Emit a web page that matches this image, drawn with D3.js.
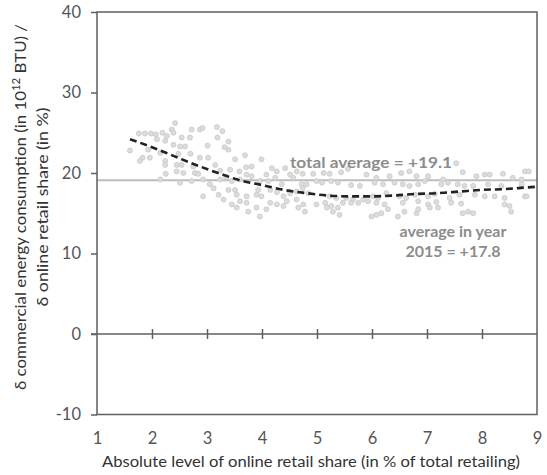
<!DOCTYPE html>
<html>
<head>
<meta charset="utf-8">
<script src="https://cdn.jsdelivr.net/npm/d3@7/dist/d3.min.js"></script>
<style>
  html, body { margin: 0; padding: 0; background: #fff; }
  svg { display: block; font-family: Lato, "Open Sans", sans-serif; }
</style>
</head>
<body>
<svg id="chart" width="547" height="475"></svg>
<script>
// Online retail share (%) vs. marginal commercial energy consumption
const pointX = [
  2.42,1.76,1.87,1.98,2.07,2.19,2.27,2.36,2.39,2.72,2.87,2.92,3.18,3.28,2.54,2.69,3.19,2.09,2.24,2.39,
  2.51,2.60,3.01,3.32,3.39,3.39,1.60,1.93,2.15,2.48,2.70,2.87,3.02,1.83,1.78,1.96,2.24,2.24,2.45,2.54,
  2.75,2.78,2.45,2.57,3.15,3.51,3.69,3.99,3.71,3.81,3.59,3.42,3.24,2.25,4.08,4.18,4.27,4.42,4.51,4.63,
  4.74,4.93,5.12,2.15,2.51,2.72,2.84,2.93,3.05,3.24,3.35,3.45,3.60,3.72,3.81,3.96,4.12,4.24,4.36,4.57,
  4.72,4.81,4.99,5.09,2.93,3.12,3.21,3.39,3.51,3.54,3.30,3.45,3.60,3.72,3.90,3.93,3.99,4.15,4.27,4.39,
  4.51,4.63,4.74,4.84,3.54,3.72,3.75,3.90,3.96,4.08,4.15,4.27,4.39,4.45,4.63,4.66,4.75,4.78,4.99,5.15,
  5.18,
  7.53,5.23,5.56,5.44,5.90,6.08,6.32,6.53,6.68,6.81,7.02,7.29,7.65,7.90,8.05,8.14,8.38,8.56,8.72,8.78,
  8.85,5.26,5.38,5.62,5.78,6.05,6.20,6.41,6.56,6.68,6.84,6.96,7.26,7.38,7.56,7.68,7.84,8.11,8.35,8.72,
  5.23,5.35,5.53,5.65,5.84,6.02,6.11,6.26,6.50,6.62,6.78,7.02,7.14,7.41,7.59,7.87,8.05,8.23,8.41,8.78,
  5.26,5.38,5.47,5.62,5.75,5.93,6.08,6.23,6.56,6.84,7.02,7.17,7.44,7.62,5.29,5.41,5.99,6.08,6.17,6.29,
  6.47,6.59,6.81,6.84,7.05,7.20,7.65,7.75,7.84,8.41,8.50,8.53,8.81
];
const pointY = [
  26.2,24.9,24.9,24.9,24.8,25.0,24.6,25.4,25.0,25.4,25.4,25.6,25.7,25.2,24.4,24.4,24.4,24.2,24.0,23.5,
  23.3,23.3,23.4,23.2,23.9,22.9,22.8,22.9,22.5,22.4,22.4,21.9,21.9,21.9,21.5,21.9,21.5,21.0,21.0,21.0,
  20.8,20.0,20.2,20.0,21.0,21.7,22.2,21.7,20.7,20.8,20.2,20.4,20.3,19.9,19.8,20.6,20.2,20.6,19.8,20.2,
  19.9,19.9,20.0,19.2,18.8,19.0,19.9,19.2,18.6,19.2,19.5,19.0,19.2,19.8,19.6,19.0,19.0,19.4,18.6,19.4,
  18.6,18.6,19.0,18.8,17.1,18.1,17.3,17.9,17.9,17.3,16.7,16.1,16.5,17.1,17.3,17.9,17.1,17.9,17.6,17.1,
  17.5,17.7,18.1,17.5,15.7,16.3,15.2,15.7,14.6,15.5,16.3,16.1,15.9,16.5,16.7,15.7,16.1,15.2,16.1,16.3,
  15.7,
  21.2,19.9,20.5,20.1,19.8,19.4,19.6,20.0,20.2,19.6,19.6,19.2,20.1,19.6,19.8,19.8,19.9,19.4,19.2,20.2,
  20.2,19.0,18.8,18.5,18.4,18.8,18.6,18.8,18.6,18.4,18.6,19.0,18.6,18.8,18.6,18.4,18.4,18.6,18.4,18.6,
  17.1,16.9,16.9,16.7,16.7,17.1,16.9,17.5,17.1,16.9,17.3,17.1,17.4,16.9,17.3,17.3,17.1,17.1,16.9,17.1,
  15.9,15.7,16.3,16.3,16.3,16.5,16.3,16.1,16.3,16.5,16.1,16.4,16.3,16.2,15.2,14.8,14.6,14.8,15.0,15.5,
  14.6,15.2,15.0,15.5,15.7,15.7,15.0,15.2,15.0,16.1,15.9,15.2,17.1
];

// Smoothed trend
const trendX = [1.6,2.0,2.4,2.8,3.2,3.6,4.0,4.4,4.8,5.2,5.6,6.0,6.4,6.8,7.2,7.6,8.0,8.4,8.8,9.0];
const trendY = [24.2,23.2,22.1,21.0,20.0,19.1,18.5,17.9,17.5,17.2,17.1,17.1,17.2,17.4,17.5,17.7,17.9,18.0,18.2,18.3];

const totalAverage = 19.1;
const yearAverage = 17.8;

const xTicks = [1,2,3,4,5,6,7,8,9];
const yTicks = [-10,0,10,20,30,40];

const svg = d3.select("#chart");
const x = d3.scaleLinear().domain([1, 9]).range([97, 537]);
const y = d3.scaleLinear().domain([-10, 40]).range([414.5, 12]);

const frameColor = "#5f5f5f";
const labelColor = "#555";
const plain = d => String(d);

// total average reference line
svg.append("line")
  .attr("x1", x(1)).attr("x2", x(9))
  .attr("y1", y(totalAverage)).attr("y2", y(totalAverage))
  .attr("stroke", "#bdbdbd").attr("stroke-width", 2);

// scatter
svg.append("g")
  .selectAll("circle")
  .data(pointX.map((v, i) => [v, pointY[i]]))
  .join("circle")
  .attr("cx", d => x(d[0]))
  .attr("cy", d => y(d[1]))
  .attr("r", 2.5)
  .attr("fill", "#dcdcdc")
  .attr("stroke", "#c8c8c8")
  .attr("stroke-width", 0.8);

// dashed trend
svg.append("path")
  .datum(trendX.map((v, i) => [v, trendY[i]]))
  .attr("d", d3.line().x(d => x(d[0])).y(d => y(d[1])).curve(d3.curveMonotoneX))
  .attr("fill", "none")
  .attr("stroke", "#222")
  .attr("stroke-width", 2.6)
  .attr("stroke-dasharray", "7,4");

// plot frame
svg.append("rect")
  .attr("x", x(1)).attr("y", y(40))
  .attr("width", x(9) - x(1)).attr("height", y(-10) - y(40))
  .attr("fill", "none")
  .attr("stroke", frameColor).attr("stroke-width", 1.5);

// y axis
const yAxis = svg.append("g")
  .attr("transform", `translate(${x(1)},0)`)
  .call(d3.axisLeft(y).tickValues(yTicks).tickSize(6).tickPadding(10).tickFormat(plain));
yAxis.select(".domain").remove();
yAxis.selectAll(".tick line").attr("stroke", frameColor).attr("stroke-width", 1.5);
yAxis.selectAll("text").attr("fill", labelColor).style("font-size", "16.5px").style("font-family", "Lato, sans-serif");

// zero line with crossing ticks
const zeroAxis = svg.append("g")
  .attr("transform", `translate(0,${y(0)})`)
  .call(d3.axisBottom(x).tickValues(xTicks.slice(1, -1)).tickSize(10).tickFormat(""));
zeroAxis.select(".domain").remove();
zeroAxis.selectAll(".tick line").attr("y1", -5).attr("y2", 5)
  .attr("stroke", frameColor).attr("stroke-width", 1.5);
svg.append("line")
  .attr("x1", x(1) - 6).attr("x2", x(9))
  .attr("y1", y(0)).attr("y2", y(0))
  .attr("stroke", frameColor).attr("stroke-width", 1.5);

// x tick labels along the bottom
const xAxis = svg.append("g")
  .attr("transform", `translate(0,${y(-10)})`)
  .call(d3.axisBottom(x).tickValues(xTicks).tickSize(0).tickPadding(18).tickFormat(plain));
xAxis.select(".domain").remove();
xAxis.selectAll("text").attr("fill", labelColor).style("font-size", "16.5px").style("font-family", "Lato, sans-serif");

// axis titles
svg.append("text")
  .attr("x", 311).attr("y", 467)
  .attr("text-anchor", "middle")
  .attr("fill", "#333")
  .attr("textLength", 418).attr("lengthAdjust", "spacingAndGlyphs")
  .style("font-size", "15.5px")
  .text("Absolute level of online retail share (in % of total retailing)");

const yTitle = svg.append("g").attr("transform", "translate(0,207) rotate(-90)");
const t1 = yTitle.append("text")
  .attr("x", 0).attr("y", 26)
  .attr("text-anchor", "middle")
  .attr("fill", "#333")
  .attr("textLength", 366).attr("lengthAdjust", "spacingAndGlyphs")
  .style("font-size", "15.5px");
t1.append("tspan").text("δ commercial energy consumption (in 10");
t1.append("tspan").attr("dy", -6).style("font-size", "10.5px").text("12");
t1.append("tspan").attr("dy", 6).text(" BTU) /");
yTitle.append("text")
  .attr("x", 0).attr("y", 48)
  .attr("text-anchor", "middle")
  .attr("fill", "#333")
  .attr("textLength", 199).attr("lengthAdjust", "spacingAndGlyphs")
  .style("font-size", "15.5px")
  .text("δ online retail share (in %)");

// annotations
svg.append("text")
  .attr("x", 290).attr("y", y(totalAverage) - 12)
  .attr("fill", "#8c8c8c")
  .attr("textLength", 162).attr("lengthAdjust", "spacingAndGlyphs")
  .style("font-size", "16px").style("font-weight", "bold")
  .text(`total average = +${totalAverage.toFixed(1)}`);
const ann = svg.append("text")
  .attr("text-anchor", "middle")
  .attr("fill", "#8c8c8c")
  .style("font-size", "16px").style("font-weight", "bold");
ann.append("tspan").attr("x", 453).attr("y", 237).text("average in year");
ann.append("tspan").attr("x", 453).attr("y", 257).text(`2015 = +${yearAverage.toFixed(1)}`);
</script>
</body>
</html>
